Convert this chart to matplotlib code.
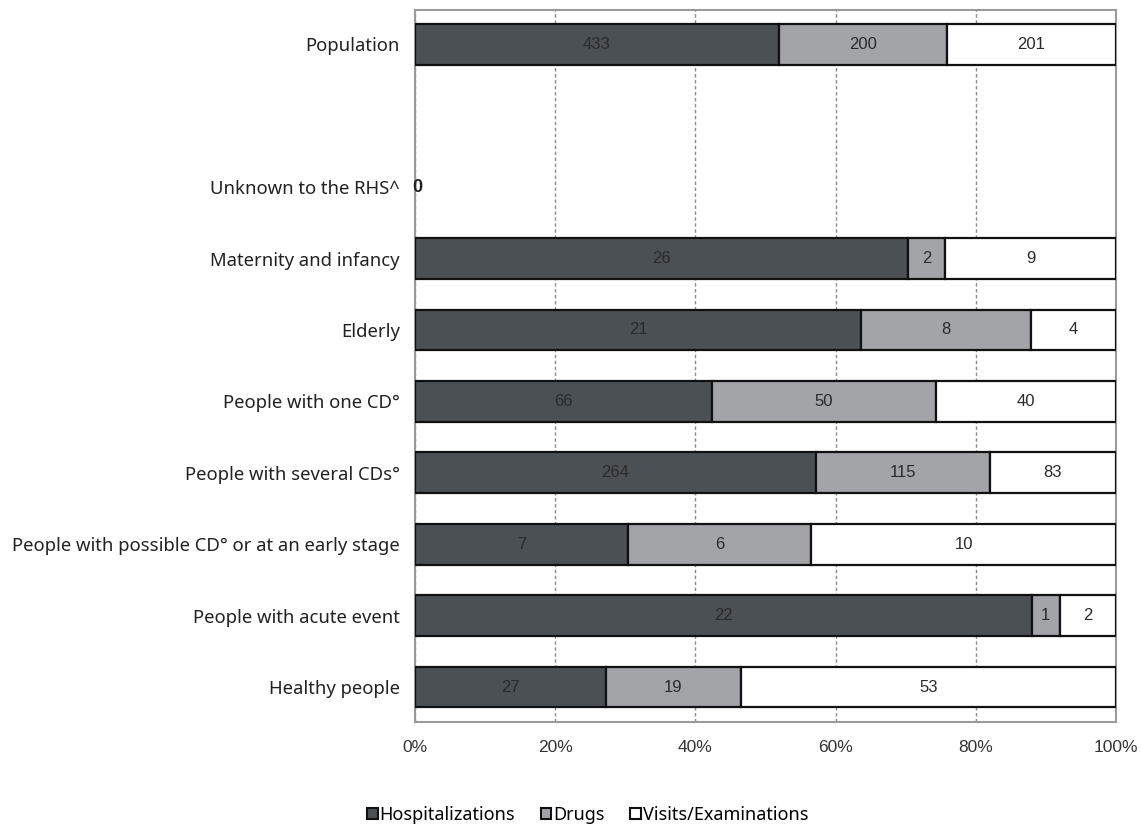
import numpy as np
import matplotlib
matplotlib.use("Agg")
import matplotlib.pyplot as plt
from matplotlib.patches import Patch

# Rows from top to bottom; the empty string is a spacer row with no bar
categories = [
    "Population",
    "",
    "Unknown to the RHS^",
    "Maternity and infancy",
    "Elderly",
    "People with one CD°",
    "People with several CDs°",
    "People with possible CD° or at an early stage",
    "People with acute event",
    "Healthy people",
]
hospitalizations = [433, None, 0, 26, 21, 66, 264, 7, 22, 27]
drugs = [200, None, 0, 2, 8, 50, 115, 6, 1, 19]
visits = [201, None, 0, 9, 4, 40, 83, 10, 2, 53]

series_names = ["Hospitalizations", "Drugs", "Visits/Examinations"]
series_colors = ["#4b5055", "#a2a4a7", "#ffffff"]
x_ticks = [0, 20, 40, 60, 80, 100]

LABEL_FONT = "Noto Sans"
NUM_FONT = "Liberation Sans"

fig = plt.figure(figsize=(11.41, 8.34), dpi=100)
ax = fig.add_axes([0.3637, 0.1343, 0.6143, 0.8537])

ypos = np.arange(len(categories))
bar_h = 0.57

for i, cat in enumerate(categories):
    vals = [hospitalizations[i], drugs[i], visits[i]]
    if vals[0] is None:
        continue
    total = sum(vals)
    if total == 0:
        # nothing to stack, just print the count at the axis
        ax.text(0.35, i, "0", ha="center", va="center", fontsize=13,
                family=NUM_FONT, color="#222222", fontweight="bold")
        continue
    left = 0.0
    for v, col in zip(vals, series_colors):
        w = v / total * 100
        ax.barh(i, w, left=left, height=bar_h, color=col,
                edgecolor="#111111", linewidth=1.6, zorder=3)
        ax.text(left + w / 2, i, str(v), ha="center", va="center",
                fontsize=12, family=NUM_FONT, color="#2a2a2a", zorder=4)
        left += w

ax.set_xlim(0, 100)
ax.set_ylim(len(categories) - 0.51, -0.48)
ax.set_yticks(ypos)
ax.set_yticklabels(categories, family=LABEL_FONT, fontsize=13.3, color="#222222")
ax.set_xticks(x_ticks)
ax.set_xticklabels([f"{t}%" for t in x_ticks], family=NUM_FONT,
                   fontsize=12.5, color="#333333")
ax.tick_params(axis="both", length=0)
ax.tick_params(axis="y", pad=11)
ax.tick_params(axis="x", pad=13)

ax.grid(axis="x", linestyle=(0, (2.5, 1.8)), color="#8c8c8c", linewidth=1.0, zorder=0)
for s in ax.spines.values():
    s.set_color("#9a9a9a")
    s.set_linewidth(1.5)

handles = [Patch(facecolor=c, edgecolor="#111111", linewidth=1.5) for c in series_colors]
fig.legend(handles, series_names, loc="center", bbox_to_anchor=(0.515, 0.023),
           ncol=3, frameon=False, handlelength=0.6, handleheight=0.6,
           handletextpad=0.1, columnspacing=1.4,
           prop={"family": LABEL_FONT, "size": 13})

fig.savefig("out.png", dpi=100)
